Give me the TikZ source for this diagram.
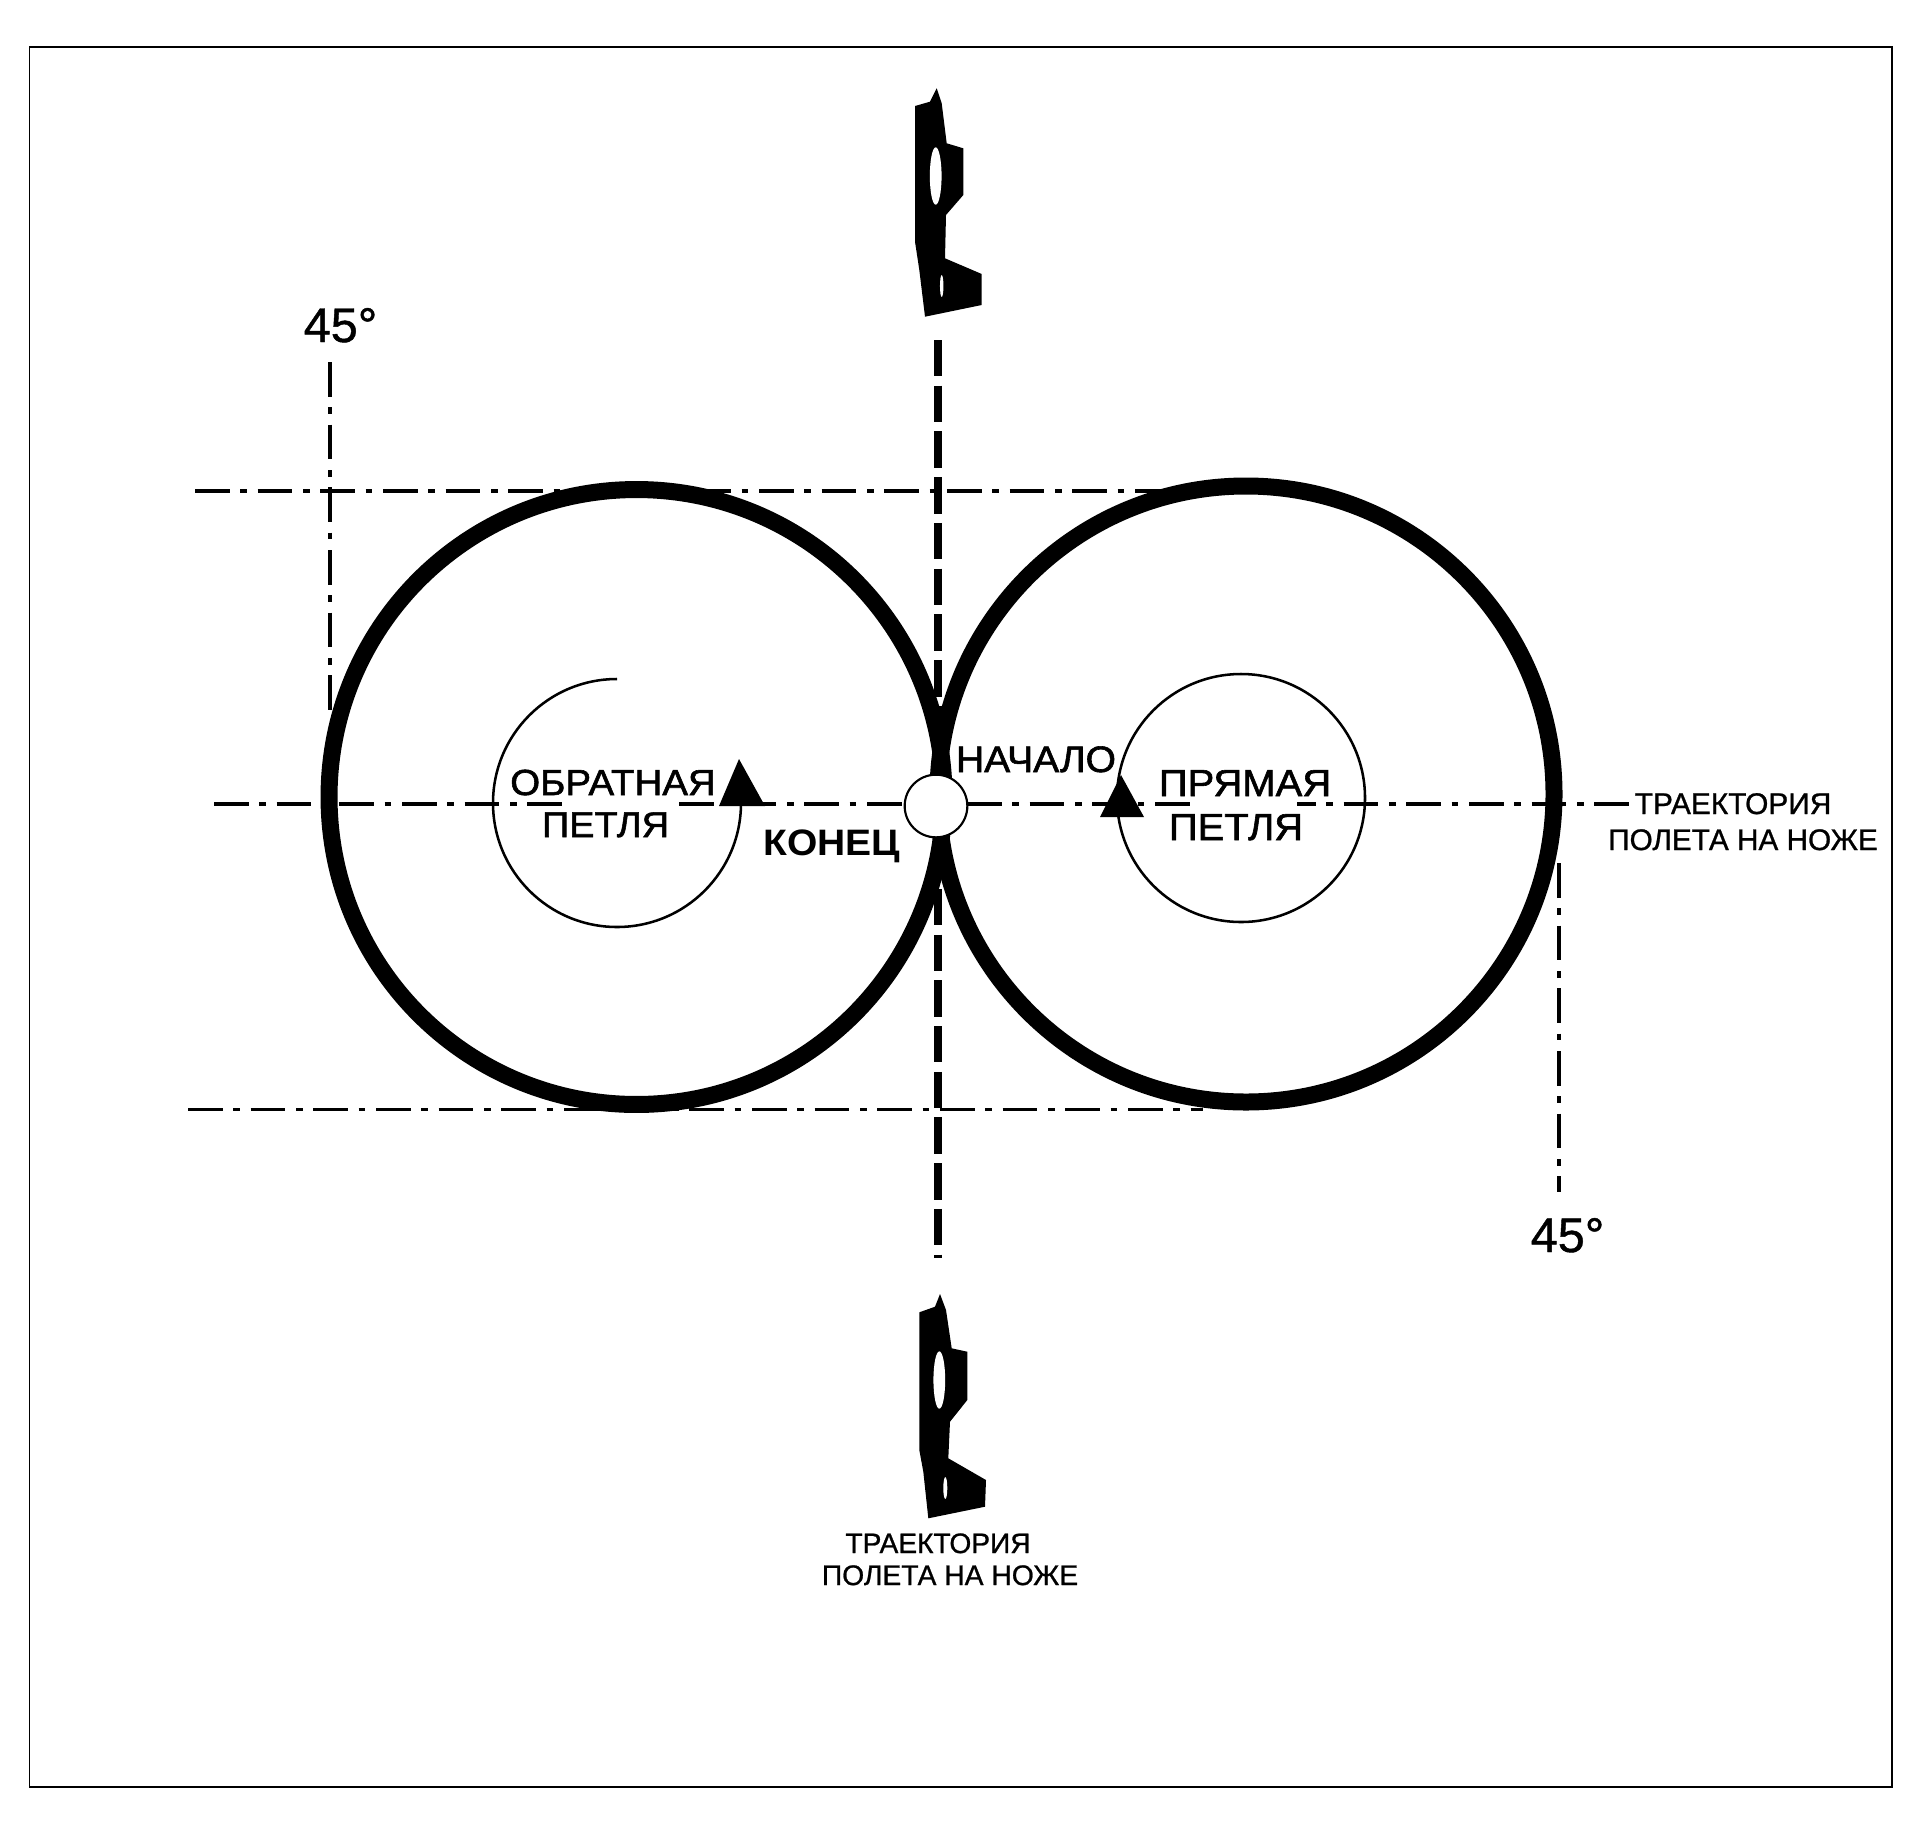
\documentclass[tikz,border=0pt]{standalone}
\usepackage{fontspec}
\setmainfont{Liberation Sans}
\newfontfamily\semib[FakeBold=1.6,FakeStretch=1.06]{Liberation Sans}
\newfontfamily\bstr[FakeStretch=1.06]{Liberation Sans}
\newfontfamily\lightb[FakeBold=0.9]{Liberation Sans}
\newcommand{\fsz}[1]{\fontsize{#1}{#1}\selectfont}
\tikzset{
  x=0.75pt,y=-0.75pt,
  frameline/.style={draw=black,line width=1.4pt},
  bigloop/.style={draw=black,line width=12.75pt},
  smallloop/.style={draw=black,line width=1.9pt},
  dashdot/.style={draw=black,line width=2.8pt,dash pattern=on 26pt off 8pt on 5pt off 8pt},
  dashdotthick/.style={draw=black,line width=3.6pt,dash pattern=on 26pt off 8pt on 5pt off 8pt,dash phase=12pt},
  angleline/.style={draw=black,line width=2.6pt,dash pattern=on 26pt off 8pt on 5pt off 8pt},
  flightline/.style={draw=black,line width=6.2pt,dash pattern=on 27.3pt off 7pt},
  hub/.style={circle,draw=black,fill=white,line width=1.6pt,minimum size=47pt,inner sep=0pt},
  txt/.style={anchor=base,inner sep=0pt,text=black},
  deg/.style={txt,font=\lightb\fsz{36.5}},
  knifebody/.style={fill=black,draw=none},
  knifehole/.style={fill=white,draw=none},
  arrowmark/.style={fill=black,draw=none}
}
\begin{document}
\begin{tikzpicture}
\useasboundingbox (0,0) rectangle (1922,1820);
\draw[frameline] (29.5,46.7) rectangle (1892,1787);

% flight-path centre line
\coordinate (ftop) at (938,340);
\coordinate (fbot) at (938,1258);
\draw[flightline] (ftop) -- (fbot);

% tangent lines
\coordinate (tl) at (195,491); \coordinate (tr) at (1166,491);
\coordinate (bl) at (188,1109.5); \coordinate (br) at (1203,1109.5);
\draw[dashdot] (tl) -- (tr);
\draw[dashdot] (bl) -- (br);

% 45 degree verticals
\coordinate (va) at (330,362); \coordinate (vb) at (330,712);
\coordinate (vc) at (1559,863); \coordinate (vd) at (1559,1192);
\draw[angleline] (va) -- (vb);
\draw[angleline] (vc) -- (vd);

% horizontal axis, broken for the labels
\coordinate (h1) at (214,804); \coordinate (h2) at (563,804);
\coordinate (h3) at (679,804); \coordinate (h4) at (905,804);
\coordinate (h5) at (967,804); \coordinate (h6) at (1190,804);
\coordinate (h7) at (1297,804); \coordinate (h8) at (1635,804);
\draw[dashdot] (h1) -- (h2);
\draw[dashdot] (h3) -- (h4);
\draw[dashdot] (h5) -- (h6);
\draw[dashdotthick] (h7) -- (h8);

% loops
\draw[bigloop] (636.5,797) circle[radius=230.6pt];
\draw[bigloop] (1246,794) circle[radius=231pt];
\node[hub] (start) at (936,806) {};

% direction circles
\draw[smallloop] (617,679) arc[start angle=90,end angle=360,radius=93pt];
\draw[smallloop] (1241,798) circle[radius=93pt];
\fill[arrowmark] (739,759) -- (765,806) -- (719,806) -- cycle;
\fill[arrowmark] (1121,775) -- (1144,817) -- (1100,817) -- cycle;

% knives
\fill[knifebody] (936.7,88.3) -- (930,101.7) -- (915,106) -- (915,241.7) -- (919.3,270) -- (925,316.7) -- (981.7,305) -- (981.7,274) -- (945,258.3) -- (946,215) -- (963.3,195) -- (963.3,148.3) -- (946.7,143.3) -- (941.7,103.3) -- cycle;
\fill[knifehole] (935.7,176) ellipse[x radius=4.4pt,y radius=21.5pt];
\fill[knifehole] (941.7,286) ellipse[x radius=1.3pt,y radius=8.2pt];

\fill[knifebody] (940,1294) -- (935,1306.7) -- (919.3,1312.3) -- (919.3,1450) -- (923.3,1471.7) -- (928.3,1518.3) -- (985,1506.7) -- (986,1480) -- (948.3,1458.3) -- (950,1421.7) -- (967.3,1400) -- (967.3,1351.7) -- (951.7,1348.3) -- (946,1310) -- cycle;
\fill[knifehole] (939.3,1380) ellipse[x radius=4.4pt,y radius=21.5pt];
\fill[knifehole] (945.3,1488) ellipse[x radius=1.5pt,y radius=8.2pt];

% labels
\node[deg] (d1) at (340.5,342) {45°};
\node[deg] (d2) at (1567.5,1252) {45°};
\node[txt,font=\semib\fsz{27.2}] (obr) at (613,795) {ОБРАТНАЯ};
\node[txt,font=\semib\fsz{26.8}] (pet1) at (605.5,837) {ПЕТЛЯ};
\node[txt,font=\bstr\fsz{27.6}\bfseries] (kon) at (832,855) {КОНЕЦ};
\node[txt,font=\semib\fsz{27.6}] (nach) at (1036,772) {НАЧАЛО};
\node[txt,font=\semib\fsz{28.3}] (pry) at (1245,796) {ПРЯМАЯ};
\node[txt,font=\semib\fsz{28.3}] (pet2) at (1236,840) {ПЕТЛЯ};
\node[txt,font=\lightb\fsz{22.4}] (tr1) at (1733,814) {ТРАЕКТОРИЯ};
\node[txt,font=\lightb\fsz{22.3}] (tr2) at (1743,850) {ПОЛЕТА НА НОЖЕ};
\node[txt,font=\lightb\fsz{21.1}] (tr3) at (938,1553) {ТРАЕКТОРИЯ};
\node[txt,font=\lightb\fsz{21.2}] (tr4) at (950,1585) {ПОЛЕТА НА НОЖЕ};
\end{tikzpicture}
\end{document}
